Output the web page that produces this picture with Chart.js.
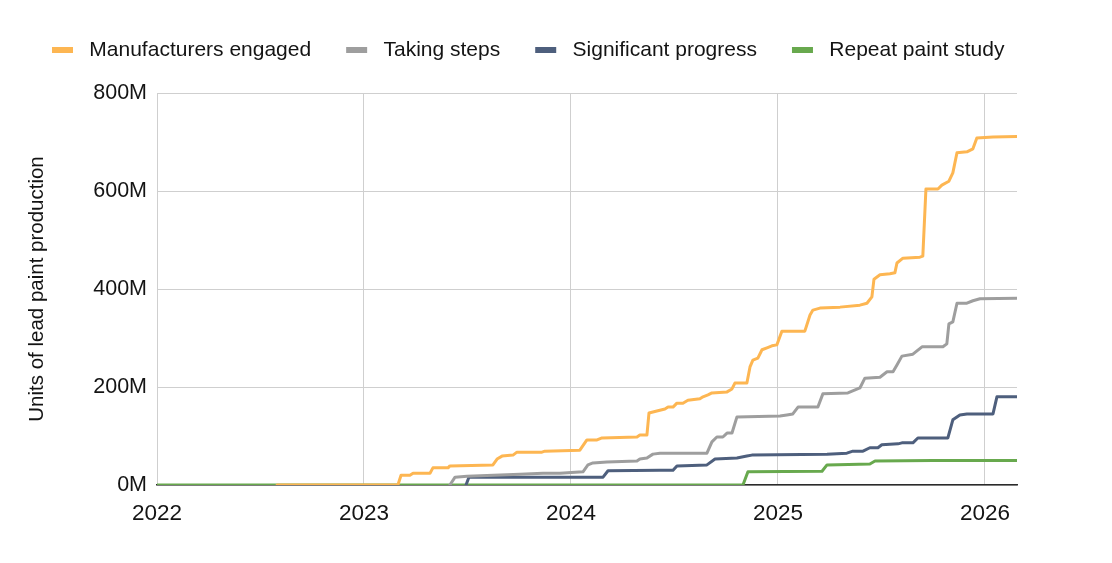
<!DOCTYPE html>
<html>
<head>
<meta charset="utf-8">
<script src="https://cdn.jsdelivr.net/npm/chart.js@4.4.1/dist/chart.umd.min.js"></script>
<style>
  html, body { margin: 0; padding: 0; background: #fff; }
</style>
</head>
<body>
<canvas id="chart" width="1112" height="563"></canvas>
<script>
const seriesNames = ['Manufacturers engaged', 'Taking steps', 'Significant progress', 'Repeat paint study'];
const seriesColors = ['#FDB652', '#9E9E9E', '#4E5F7D', '#68A94E'];

// x = decimal year, y = units in millions
const engagedX = [2022.58, 2023.164, 2023.179, 2023.222, 2023.237, 2023.319, 2023.333, 2023.406, 2023.415, 2023.623,
  2023.643, 2023.667, 2023.720, 2023.739, 2023.860, 2023.874, 2024.043, 2024.077, 2024.126, 2024.150,
  2024.319, 2024.333, 2024.367, 2024.377, 2024.396, 2024.415, 2024.454, 2024.469, 2024.493, 2024.512,
  2024.541, 2024.565, 2024.623, 2024.638, 2024.662, 2024.681, 2024.754, 2024.778, 2024.792, 2024.850,
  2024.865, 2024.879, 2024.903, 2024.923, 2024.947, 2024.971, 2024.995, 2025.019, 2025.130, 2025.155,
  2025.169, 2025.203, 2025.300, 2025.396, 2025.430, 2025.454, 2025.464, 2025.493, 2025.541, 2025.565,
  2025.575, 2025.604, 2025.686, 2025.700, 2025.715, 2025.773, 2025.792, 2025.826, 2025.845, 2025.865,
  2025.913, 2025.942, 2025.961, 2026.039, 2026.155];
const engagedY = [0, 0, 20, 20, 24, 24, 35, 35, 39, 41,
  53, 59, 61, 67, 67, 69, 71, 92, 92, 96,
  98, 102, 102, 147, 149, 151, 155, 159, 159, 167,
  167, 173, 176, 180, 184, 188, 190, 196, 208, 208,
  241, 255, 259, 276, 280, 284, 286, 314, 314, 347,
  357, 361, 363, 367, 371, 384, 420, 429, 431, 433,
  453, 463, 465, 467, 604, 604, 612, 620, 637, 678,
  680, 686, 708, 710, 711];

const stepsX = [2023.415, 2023.440, 2023.498, 2023.754, 2023.865, 2023.947, 2024.058, 2024.082, 2024.106, 2024.174,
  2024.319, 2024.333, 2024.367, 2024.396, 2024.430, 2024.657, 2024.681, 2024.705, 2024.734, 2024.754,
  2024.778, 2024.802, 2025.010, 2025.043, 2025.072, 2025.097, 2025.193, 2025.217, 2025.338, 2025.396,
  2025.420, 2025.493, 2025.527, 2025.556, 2025.575, 2025.599, 2025.652, 2025.696, 2025.797, 2025.816,
  2025.826, 2025.845, 2025.865, 2025.913, 2025.942, 2025.976, 2026.155];
const stepsY = [0, 16, 18, 22, 24, 24, 27, 41, 45, 47,
  49, 53, 55, 63, 65, 65, 88, 98, 98, 106,
  106, 139, 141, 143, 145, 159, 159, 186, 188, 198,
  218, 220, 231, 231, 245, 263, 267, 282, 282, 288,
  329, 333, 371, 371, 376, 380, 381];

const progressX = [2023.493, 2023.507, 2024.155, 2024.179, 2024.430, 2024.493, 2024.512, 2024.657, 2024.696, 2024.802,
  2024.850, 2024.874, 2025.237, 2025.333, 2025.362, 2025.411, 2025.444, 2025.483, 2025.502, 2025.580,
  2025.599, 2025.652, 2025.676, 2025.821, 2025.845, 2025.879, 2025.913, 2026.039, 2026.058, 2026.155];
const progressY = [0, 16, 16, 29, 30, 30, 39, 41, 53, 55,
  59, 61, 63, 65, 69, 69, 76, 76, 82, 84,
  86, 86, 96, 96, 133, 143, 145, 145, 180, 180];

const repeatX = [2022, 2024.831, 2024.855, 2025.213, 2025.237, 2025.444, 2025.469, 2025.749, 2026.155];
const repeatY = [0, 0, 27, 28, 41, 43, 49, 50, 50];

const yearTicks = [2022, 2023, 2024, 2025, 2026];
const valueTicks = [0, 200, 400, 600, 800];

const fontFamily = "'Liberation Sans', Arial, Helvetica, sans-serif";
const textColor = '#141414';

function toPoints(xs, ys) {
  return xs.map((x, i) => ({ x: x, y: ys[i] }));
}

const pointSets = [
  toPoints(engagedX, engagedY),
  toPoints(stepsX, stepsY),
  toPoints(progressX, progressY),
  toPoints(repeatX, repeatY)
];

// push the chart area down below the legend
const legendSpace = {
  id: 'legendSpace',
  beforeInit(chart) {
    const fit = chart.legend.fit;
    chart.legend.fit = function () {
      fit.bind(chart.legend)();
      this.height = 88.5;
    };
  }
};

new Chart(document.getElementById('chart'), {
  type: 'line',
  data: {
    datasets: seriesNames.map((name, i) => ({
      label: name,
      data: pointSets[i],
      borderColor: seriesColors[i],
      backgroundColor: seriesColors[i],
      borderWidth: 3,
      pointRadius: 0,
      tension: 0,
      fill: false,
      borderJoinStyle: 'round',
      borderCapStyle: 'round'
    }))
  },
  options: {
    responsive: false,
    animation: false,
    layout: {
      padding: { top: 4.5, left: 17, right: 0, bottom: 0 }
    },
    plugins: {
      tooltip: { enabled: false },
      legend: {
        position: 'top',
        align: 'start',
        labels: {
          boxWidth: 21,
          boxHeight: 6,
          padding: 35,
          color: textColor,
          font: { family: fontFamily, size: 21 },
          generateLabels(chart) {
            return Chart.defaults.plugins.legend.labels.generateLabels(chart)
              .map(item => ({ ...item, text: ' ' + item.text, lineWidth: 0 }));
          }
        }
      }
    },
    scales: {
      x: {
        type: 'linear',
        min: 2022,
        max: 2026.155,
        afterBuildTicks(scale) {
          scale.ticks = yearTicks.map(v => ({ value: v }));
        },
        afterFit(scale) {
          scale.height = 78;
        },
        ticks: {
          autoSkip: false,
          maxRotation: 0,
          padding: 15,
          color: textColor,
          font: { family: fontFamily, size: 22.5 },
          callback: v => String(v)
        },
        grid: { color: '#cfcfcf', lineWidth: 1, drawTicks: false },
        border: { color: '#2b2b2b', width: 1.5 }
      },
      y: {
        min: 0,
        max: 800,
        afterBuildTicks(scale) {
          scale.ticks = valueTicks.map(v => ({ value: v }));
        },
        afterFit(scale) {
          scale.width = 140;
        },
        ticks: {
          padding: 10,
          color: textColor,
          font: { family: fontFamily, size: 21.5 },
          callback: v => v + 'M'
        },
        grid: { color: '#cfcfcf', lineWidth: 1, drawTicks: false },
        border: { display: false },
        title: {
          display: true,
          text: 'Units of lead paint production',
          color: textColor,
          font: { family: fontFamily, size: 20.5 },
          padding: { top: 8, bottom: 0 }
        }
      },
      yPad: {
        type: 'linear',
        axis: 'y',
        position: 'right',
        afterFit(scale) {
          scale.width = 95;
        },
        ticks: { display: false },
        grid: { display: false, drawTicks: false },
        border: { display: false }
      }
    }
  },
  plugins: [legendSpace]
});
</script>
</body>
</html>
